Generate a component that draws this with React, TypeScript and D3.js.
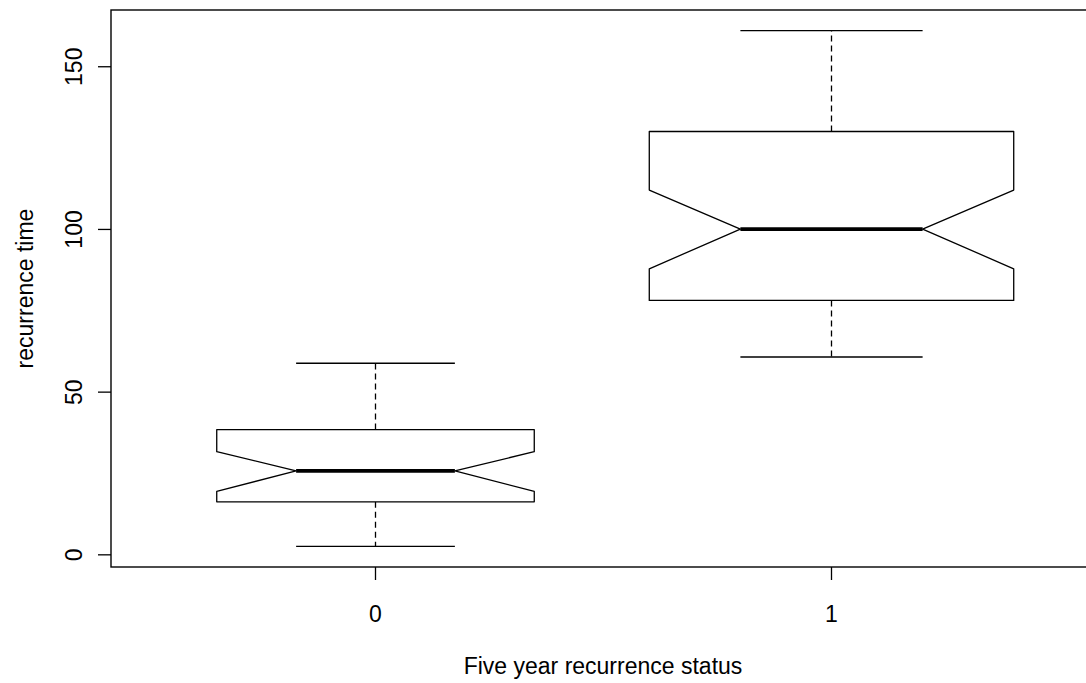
import { useEffect, useRef } from "react";
import * as d3 from "d3";

// group labels and box statistics
const groups = ["0", "1"];
const whiskerLow = [2.6, 60.8];
const q1 = [16.3, 78.2];
const notchLow = [19.5, 87.9];
const median = [25.8, 100.1];
const notchHigh = [31.7, 112.1];
const q3 = [38.5, 130.1];
const whiskerHigh = [58.9, 161.1];
// relative box widths (varwidth)
const boxWidth = [0.697, 0.8];
const yTicks = [0, 50, 100, 150];

const W = 1086;
const H = 683;
const FONT = "'Liberation Sans', Arial, Helvetica, sans-serif";

const App = () => {
  const ref = useRef<SVGSVGElement>(null);

  useEffect(() => {
    const svg = d3.select(ref.current);
    svg.selectAll("*").remove();

    const plot = { left: 111, right: 1095, top: 10, bottom: 567 };

    // R style 4% extension of the ranges
    const lo = d3.min(whiskerLow) as number;
    const hi = d3.max(whiskerHigh) as number;
    const ext = (hi - lo) * 0.04;
    const y = d3
      .scaleLinear()
      .domain([lo - ext, hi + ext])
      .range([plot.bottom, plot.top]);

    const xExt = groups.length * 0.04;
    const x = d3
      .scaleLinear()
      .domain([0.5 - xExt, groups.length + 0.5 + xExt])
      .range([plot.left, plot.right]);

    const g = svg.append("g");
    const line = d3.line<[number, number]>();

    groups.forEach((grp, i) => {
      const cx = Math.round(x(i + 1)) + 0.5;
      const half = x(1 + boxWidth[i] / 2) - x(1);
      const notchHalf = half / 2;

      // dashed whiskers
      [
        [q3[i], whiskerHigh[i]],
        [q1[i], whiskerLow[i]],
      ].forEach(([a, b]) => {
        g.append("line")
          .attr("x1", cx)
          .attr("x2", cx)
          .attr("y1", y(a))
          .attr("y2", y(b))
          .attr("stroke", "#000")
          .attr("stroke-width", 1.3)
          .attr("stroke-dasharray", "6,4");
      });

      // staples
      [whiskerLow[i], whiskerHigh[i]].forEach((v) => {
        g.append("line")
          .attr("x1", cx - notchHalf)
          .attr("x2", cx + notchHalf)
          .attr("y1", y(v))
          .attr("y2", y(v))
          .attr("stroke", "#000")
          .attr("stroke-width", 1.4);
      });

      // notched box
      const pts: [number, number][] = [
        [cx - half, y(q3[i])],
        [cx - half, y(notchHigh[i])],
        [cx - notchHalf, y(median[i])],
        [cx - half, y(notchLow[i])],
        [cx - half, y(q1[i])],
        [cx + half, y(q1[i])],
        [cx + half, y(notchLow[i])],
        [cx + notchHalf, y(median[i])],
        [cx + half, y(notchHigh[i])],
        [cx + half, y(q3[i])],
      ];
      g.append("path")
        .attr("d", line(pts) + "Z")
        .attr("fill", "#fff")
        .attr("stroke", "#000")
        .attr("stroke-width", 1.3)
        .attr("stroke-linejoin", "round");

      // median
      g.append("line")
        .attr("x1", cx - notchHalf)
        .attr("x2", cx + notchHalf)
        .attr("y1", y(median[i]))
        .attr("y2", y(median[i]))
        .attr("stroke", "#000")
        .attr("stroke-width", 3.6);

      // x tick + label
      g.append("line")
        .attr("x1", cx)
        .attr("x2", cx)
        .attr("y1", plot.bottom)
        .attr("y2", plot.bottom + 13)
        .attr("stroke", "#000")
        .attr("stroke-width", 1.3);
      g.append("text")
        .attr("x", cx)
        .attr("y", 621.5)
        .attr("text-anchor", "middle")
        .attr("font-family", FONT)
        .attr("font-size", 23)
        .text(grp);
    });

    // y ticks
    yTicks.forEach((t) => {
      g.append("line")
        .attr("x1", plot.left - 13)
        .attr("x2", plot.left)
        .attr("y1", y(t))
        .attr("y2", y(t))
        .attr("stroke", "#000")
        .attr("stroke-width", 1.3);
      g.append("text")
        .attr("transform", `translate(82,${y(t)}) rotate(-90)`)
        .attr("text-anchor", "middle")
        .attr("font-family", FONT)
        .attr("font-size", 23)
        .text(t);
    });

    // plot frame
    g.append("rect")
      .attr("x", plot.left)
      .attr("y", plot.top)
      .attr("width", plot.right - plot.left)
      .attr("height", plot.bottom - plot.top)
      .attr("fill", "none")
      .attr("stroke", "#000")
      .attr("stroke-width", 1.4);

    // axis titles
    g.append("text")
      .attr("x", (plot.left + plot.right) / 2)
      .attr("y", 674)
      .attr("text-anchor", "middle")
      .attr("font-family", FONT)
      .attr("font-size", 23)
      .text("Five year recurrence status");

    g.append("text")
      .attr("transform", `translate(33,${(plot.top + plot.bottom) / 2}) rotate(-90)`)
      .attr("text-anchor", "middle")
      .attr("font-family", FONT)
      .attr("font-size", 23)
      .text("recurrence time");
  }, []);

  return (
    <svg
      ref={ref}
      width={W}
      height={H}
      xmlns="http://www.w3.org/2000/svg"
      style={{ position: "absolute", left: 0, top: 0, background: "#fff" }}
    ></svg>
  );
};

export default App;
